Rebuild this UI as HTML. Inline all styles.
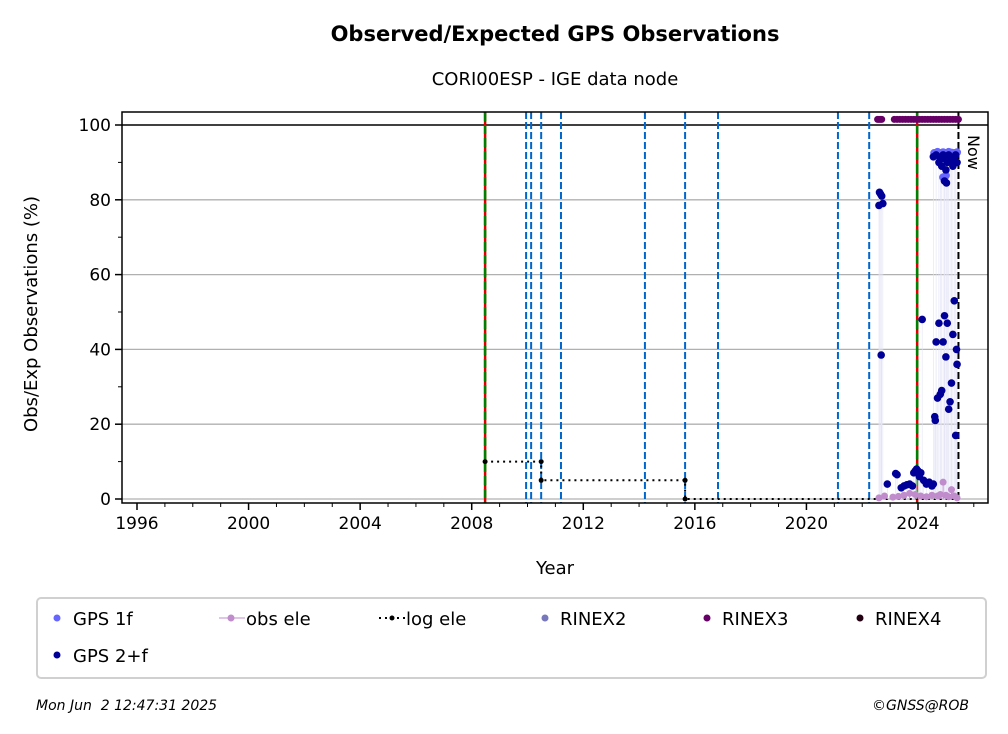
<!DOCTYPE html>
<html><head><meta charset="utf-8"><style>
html,body{margin:0;padding:0;background:#fff;}
svg{display:block;font-family:"DejaVu Sans","Liberation Sans",sans-serif;}
text{white-space:pre;}
</style></head><body>
<svg id="chart" width="1008" height="734" viewBox="0 0 1008 734">
<text x="555" y="41" text-anchor="middle" font-size="21" font-weight="bold">Observed/Expected GPS Observations</text>
<text x="555" y="85" text-anchor="middle" font-size="18">CORI00ESP - IGE data node</text>
<g id="grid"></g>
<g id="vlines"></g>
<g id="marks"></g>
<rect x="122" y="112" width="866" height="391" fill="none" stroke="#000" stroke-width="1.5"/>
<g id="axes"></g>
<text x="0" y="0" transform="translate(37,314) rotate(-90)" text-anchor="middle" font-size="18">Obs/Exp Observations (%)</text>
<text x="555" y="574" text-anchor="middle" font-size="18">Year</text>
<text x="0" y="0" transform="translate(968,135) rotate(90)" font-size="16">Now</text>
<g>
<rect x="37" y="598" width="949" height="80" rx="4" fill="#fff" stroke="#d0d0d0" stroke-width="2"/>
<g><circle cx="57" cy="618" r="3.5" fill="#6666ff"/><text x="73" y="625" font-size="18">GPS 1f</text></g>
<g><line x1="219" y1="618" x2="245" y2="618" stroke="#c08ccc" stroke-width="1"/><circle cx="231" cy="618" r="3.5" fill="#c08ccc"/><text x="246" y="625" font-size="18">obs ele</text></g>
<g><line x1="379" y1="618" x2="405" y2="618" stroke="#000" stroke-width="2" stroke-dasharray="2,4"/><circle cx="392" cy="618" r="2.5" fill="#000"/><text x="406" y="625" font-size="18">log ele</text></g>
<g><circle cx="545" cy="618" r="3.5" fill="#7777bb"/><text x="560" y="625" font-size="18">RINEX2</text></g>
<g><circle cx="707" cy="618" r="3.5" fill="#660066"/><text x="722" y="625" font-size="18">RINEX3</text></g>
<g><circle cx="860" cy="618" r="3.5" fill="#220011"/><text x="875" y="625" font-size="18">RINEX4</text></g>
<g><circle cx="57" cy="655" r="3.5" fill="#000099"/><text x="73" y="662" font-size="18">GPS 2+f</text></g>
</g>
<text x="36" y="710" font-size="14" font-style="italic">Mon Jun  2 12:47:31 2025</text>
<text x="969" y="710" font-size="14" font-style="italic" text-anchor="end">©GNSS@ROB</text>
</svg>
<script>
const xTicks=[1996,2000,2004,2008,2012,2016,2020,2024];
const yTicks=[0,20,40,60,80,100];
const greenLines=[2008.48,2023.97];
const blueLines=[2009.95,2010.13,2010.49,2011.2,2014.21,2015.65,2016.83,2021.13,2022.25];
const nowYear=2025.45;
const logYears=[2008.48,2010.49,2010.49,2015.65,2015.65,2025.45];
const logVals=[10,10,5,5,0,0];
const gps2Years=[2022.62,2022.66,2022.7,2022.74,2022.6,2022.68,2022.9,2023.2,2023.25,2023.4,2023.5,2023.6,2023.7,2023.8,2023.85,2023.9,2023.95,2024.0,2024.05,2024.1,2024.15,2024.2,2024.3,2024.4,2024.5,2024.55,2024.6,2024.62,2024.65,2024.7,2024.75,2024.8,2024.85,2024.9,2024.95,2025.0,2025.05,2025.1,2025.15,2025.2,2025.25,2025.3,2025.35,2025.38,2025.4,2024.55,2024.65,2024.75,2024.8,2024.85,2024.9,2024.95,2025.0,2025.05,2025.1,2025.15,2025.2,2025.25,2025.3,2025.35,2025.4,2024.95,2025.02];
const gps2Vals=[82,81.5,81,79,78.5,38.5,4,6.8,6.5,3,3.5,3.8,4,3.5,7,7.5,8,7.5,6,7,48,5,4,4.5,3.5,4,22,21,42,27,47,28,29,42,49,38,47,24,26,31,44,53,17,40,36,91.5,92,90,91,89,92,91,88,90,92,91,90,89,91,92,90,85,84.5];
const gps1Years=[2024.58,2024.7,2024.8,2024.9,2025.0,2025.1,2025.2,2025.3,2025.4,2024.9,2025.0];
const gps1Vals=[92.5,92.8,92.5,92.7,92.5,92.8,92.6,92.5,92.7,86,86.5];
const obsYears=[2022.6,2022.8,2023.1,2023.3,2023.5,2023.7,2023.9,2024.1,2024.3,2024.5,2024.7,2024.8,2024.9,2025.0,2025.1,2025.2,2025.3,2025.4];
const obsVals=[0.3,0.8,0.5,0.7,1,1.5,1.2,0.8,0.6,1,0.8,1.2,4.5,1,0.6,2.5,0.8,0.3];
const r3Years=[2022.55,2022.6,2022.65,2022.7,2023.15,2023.25,2023.35,2023.45,2023.55,2023.65,2023.75,2023.85,2023.95,2024.05,2024.15,2024.25,2024.35,2024.45,2024.55,2024.65,2024.75,2024.85,2024.95,2025.05,2025.15,2025.25,2025.35,2025.45];
const r3Vals=[101.5,101.5,101.5,101.5,101.5,101.5,101.5,101.5,101.5,101.5,101.5,101.5,101.5,101.5,101.5,101.5,101.5,101.5,101.5,101.5,101.5,101.5,101.5,101.5,101.5,101.5,101.5,101.5];

const NS='http://www.w3.org/2000/svg';
const X=y=>137+(y-1996)*27.893;
const Y=v=>499-v*3.74;
function mk(tag,attrs,parent){const e=document.createElementNS(NS,tag);for(const k in attrs)e.setAttribute(k,attrs[k]);parent.appendChild(e);return e;}
const grid=document.getElementById('grid'),vl=document.getElementById('vlines'),marks=document.getElementById('marks'),axes=document.getElementById('axes');
yTicks.forEach(v=>{
  const l=mk('line',{x1:122,x2:988,y1:Y(v),y2:Y(v),stroke:v===100?'#000':'#b0b0b0','stroke-width':v===100?1.5:1.3},grid);
  
  
  const t=mk('line',{x1:115,x2:122,y1:Y(v),y2:Y(v),stroke:'#000','stroke-width':1.5},axes);
  
  
  const tx=mk('text',{x:111,y:Y(v)+6,'text-anchor':'end','font-size':17},axes);tx.textContent=v;
  
  
});
for(let v=10;v<100;v+=20){const t=mk('line',{x1:118,x2:122,y1:Y(v),y2:Y(v),stroke:'#000','stroke-width':1},axes);
  
  }
for(let yr=1996;yr<=2026;yr++){const maj=xTicks.includes(yr);
  const t=mk('line',{x1:X(yr),x2:X(yr),y1:503,y2:maj?510:507,stroke:'#000','stroke-width':maj?1.5:1},axes);
  
  }
xTicks.forEach(yr=>{const tx=mk('text',{x:X(yr),y:529,'text-anchor':'middle','font-size':17},axes);tx.textContent=yr;
  
  });
blueLines.forEach(yr=>{const l=mk('line',{x1:X(yr),x2:X(yr),y1:112,y2:503,stroke:'#0066cc','stroke-width':2,'stroke-dasharray':'7,3'},vl);
  
  });
greenLines.forEach(yr=>{
  const a=mk('line',{x1:X(yr),x2:X(yr),y1:112,y2:503,stroke:'#dd0000','stroke-width':2.5},vl);
  
  
  const b=mk('line',{x1:X(yr),x2:X(yr),y1:112,y2:503,stroke:'#008000','stroke-width':2.5,'stroke-dasharray':'9,4'},vl);
  
  });
const nw=mk('line',{x1:X(nowYear),x2:X(nowYear),y1:112,y2:503,stroke:'#000','stroke-width':2,'stroke-dasharray':'7,3'},vl);


let d='';logYears.forEach((yr,i)=>{d+=(i?'L':'M')+X(yr)+','+Y(logVals[i]);});
const lp=mk('path',{d:d,fill:'none',stroke:'#000','stroke-width':2,'stroke-dasharray':'2,4'},marks);


[0,1,2,3,4].forEach(i=>{const c=mk('circle',{cx:X(logYears[i]),cy:Y(logVals[i]),r:2.5,fill:'#000'},marks);
  
  });
gps2Years.forEach((yr,i)=>{const l=mk('line',{x1:X(yr),x2:X(yr),y1:Y(gps2Vals[i]),y2:Y(0),stroke:'#e4e4f6','stroke-width':0.6},marks);
  
  });
obsYears.forEach((yr,i)=>{const l=mk('line',{x1:X(yr),x2:X(yr),y1:Y(obsVals[i]),y2:Y(0),stroke:'#c08ccc','stroke-width':1},marks);
  
  
  const c=mk('circle',{cx:X(yr),cy:Y(obsVals[i]),r:3.5,fill:'#c08ccc'},marks);
  
  });
gps1Years.forEach((yr,i)=>{const c=mk('circle',{cx:X(yr),cy:Y(gps1Vals[i]),r:4,fill:'#6666ff'},marks);
  
  });
gps2Years.forEach((yr,i)=>{const c=mk('circle',{cx:X(yr),cy:Y(gps2Vals[i]),r:3.8,fill:'#000099'},marks);
  
  });
r3Years.forEach((yr,i)=>{const c=mk('circle',{cx:X(yr),cy:Y(r3Vals[i]),r:3.5,fill:'#660066'},marks);
  
  });
</script>
</body></html>
